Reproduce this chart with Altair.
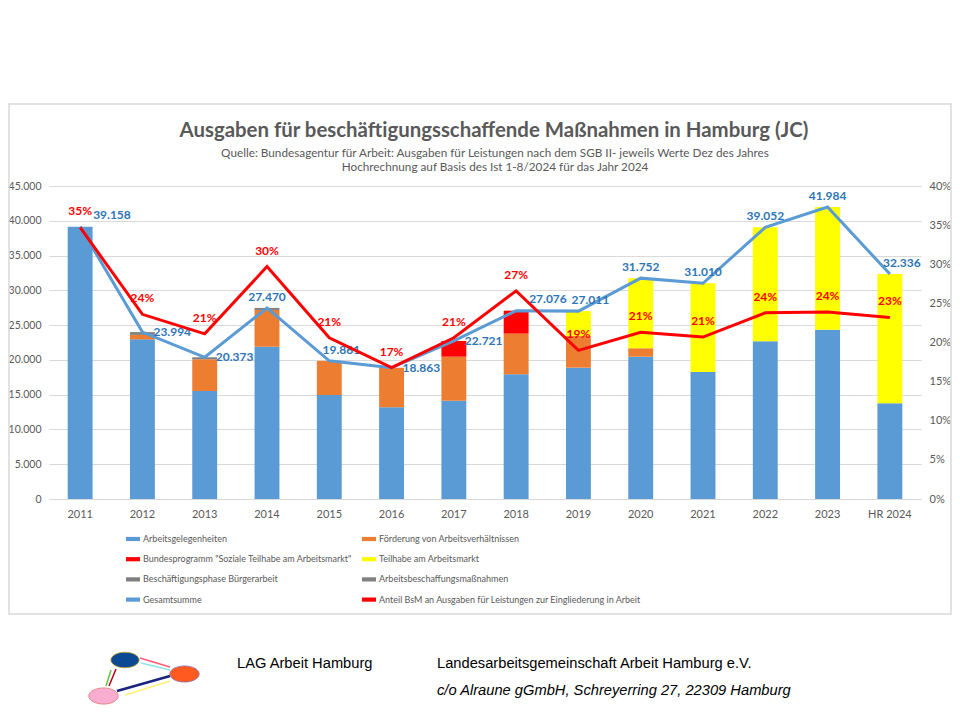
import altair as alt
import pandas as pd

YEARS = ["2011", "2012", "2013", "2014", "2015", "2016", "2017", "2018",
         "2019", "2020", "2021", "2022", "2023", "HR 2024"]
ARBEITSGELEGENHEITEN = [39158, 22950, 15530, 21900, 14950, 13190, 14140, 17930,
                        18880, 20460, 18260, 22680, 24350, 13760]
FOERDERUNG = [0, 650, 4560, 5280, 4911, 5673, 6320, 5840, 4560, 1210, 0, 0, 0, 0]
BUNDESPROGRAMM = [0, 0, 0, 0, 0, 0, 2261, 3306, 0, 0, 0, 0, 0, 0]
TEILHABE = [0, 0, 0, 0, 0, 0, 0, 0, 3571, 10082, 12750, 16372, 17634, 18576]
BUERGERARBEIT = [0, 394, 283, 290, 0, 0, 0, 0, 0, 0, 0, 0, 0, 0]
ABM = [0, 0, 0, 0, 0, 0, 0, 0, 0, 0, 0, 0, 0, 0]
GESAMTSUMME = [39158, 23994, 20373, 27470, 19861, 18863, 22721, 27076,
               27011, 31752, 31010, 39052, 41984, 32336]
ANTEIL = [0.347, 0.236, 0.211, 0.297, 0.206, 0.168, 0.206, 0.266,
          0.190, 0.213, 0.207, 0.238, 0.239, 0.232]
LEFT_TICKS = [0, 5000, 10000, 15000, 20000, 25000, 30000, 35000, 40000, 45000]
RIGHT_TICKS = [0.0, 0.05, 0.10, 0.15, 0.20, 0.25, 0.30, 0.35, 0.40]
LABEL_RIGHT_YEARS = ["2012", "2013", "2016", "2017"]
LABEL_UPPER_RIGHT_YEARS = ["2011", "2018"]
LABEL_ABOVE_RIGHT_YEARS = ["2015", "2019", "HR 2024"]

SERIES = ["Arbeitsgelegenheiten", "Förderung von Arbeitsverhältnissen",
          "Bundesprogramm \"Soziale Teilhabe am Arbeitsmarkt\"", "Teilhabe am Arbeitsmarkt",
          "Beschäftigungsphase Bürgerarbeit", "Arbeitsbeschaffungsmaßnahmen",
          "Gesamtsumme", "Anteil BsM an Ausgaben für Leistungen zur Eingliederung in Arbeit"]
COLORS = ["#5B9BD5", "#ED7D31", "#FF0000", "#FFFF00", "#7F7F7F", "#808080",
          "#5B9BD5", "#FF0000"]

TITLE = "Ausgaben für beschäftigungsschaffende Maßnahmen in Hamburg (JC)"
SUBTITLE_1 = "Quelle: Bundesagentur für Arbeit: Ausgaben für Leistungen nach dem SGB II- jeweils Werte Dez des Jahres"
SUBTITLE_2 = "Hochrechnung auf Basis des Ist 1-8/2024 für das Jahr 2024"
FOOTER_NAME = "LAG Arbeit  Hamburg"
FOOTER_ORG = "Landesarbeitsgemeinschaft Arbeit  Hamburg e.V."
FOOTER_ADDR = "c/o Alraune  gGmbH, Schreyerring 27, 22309  Hamburg"

FONT = "Lato, Liberation Sans, sans-serif"
FOOT_FONT = "Liberation Sans, Arial, sans-serif"
GRAY = "#595959"

bar_series = [ARBEITSGELEGENHEITEN, FOERDERUNG, BUNDESPROGRAMM, TEILHABE, BUERGERARBEIT, ABM]
rows = []
for si, vals in enumerate(bar_series):
    for y, v in zip(YEARS, vals):
        if v > 0:
            rows.append({"year": y, "series": SERIES[si], "order": si, "value": v})
bars_df = pd.DataFrame(rows)
line_df = pd.DataFrame({"year": YEARS, "total": GESAMTSUMME, "anteil": ANTEIL})

# identical axis definitions reused in every layer so that merged axes stay consistent
X_AXIS = alt.Axis(labelAngle=0, labelColor=GRAY, labelFontSize=11, labelFont=FONT, title=None,
                  domainColor="#D9D9D9", ticks=False, labelPadding=9, labelOverlap=False, grid=False)
LEFT_AXIS = alt.Axis(values=LEFT_TICKS, title=None,
                     labelExpr="replace(format(datum.value, ','), ',', '.')",
                     labelColor=GRAY, labelFontSize=10.5, labelFont=FONT, domain=False,
                     ticks=False, grid=True, gridColor="#D9D9D9", gridWidth=1, labelPadding=8,
                     labelOverlap=False)
RIGHT_AXIS = alt.Axis(orient="right", format=".0%", values=RIGHT_TICKS, title=None,
                      labelColor=GRAY, labelFontSize=11, labelFont=FONT, domain=False,
                      ticks=False, grid=False, labelPadding=8, labelOverlap=False)

X_SCALE = alt.Scale(domain=YEARS, paddingInner=0.6, paddingOuter=0.3)
Y_LEFT_SCALE = alt.Scale(domain=[0, 45000])
Y_RIGHT_SCALE = alt.Scale(domain=[0, 0.40])

X = alt.X("year:N", sort=YEARS, scale=X_SCALE, axis=X_AXIS, title=None)
Y_TOTAL = alt.Y("total:Q", scale=Y_LEFT_SCALE, axis=LEFT_AXIS, title=None)
Y_ANTEIL = alt.Y("anteil:Q", scale=Y_RIGHT_SCALE, axis=RIGHT_AXIS, title=None)

bars = alt.Chart(bars_df).mark_bar().encode(
    x=X,
    y=alt.Y("value:Q", stack="zero", scale=Y_LEFT_SCALE, axis=LEFT_AXIS, title=None),
    color=alt.Color("series:N", scale=alt.Scale(domain=SERIES, range=COLORS), title=None,
                    legend=alt.Legend(orient="none", legendX=77, legendY=346, columns=2,
                                      direction="horizontal", columnPadding=10, rowPadding=8.2,
                                      labelFont=FONT, labelFontSize=9, labelColor=GRAY,
                                      labelLimit=500, symbolType="M-1,-0.3H1V0.3H-1Z",
                                      symbolSize=196, symbolStrokeWidth=0, labelOffset=3)),
    order=alt.Order("order:Q"),
)

total_line = alt.Chart(line_df).mark_line(color="#5B9BD5", strokeWidth=3).encode(x=X, y=Y_TOTAL)

total_fmt = "replace(format(datum.total, ','), ',', '.')"
label_style = dict(font=FONT, fontSize=12, fontWeight="bold", color="#2E75B6", baseline="middle")


def total_labels(years, negate=False, **kw):
    pred = alt.FieldOneOfPredicate(field="year", oneOf=years)
    return alt.Chart(line_df).transform_filter(~pred if negate else pred).transform_calculate(
        lbl=total_fmt).mark_text(**kw, **label_style).encode(x=X, y=Y_TOTAL, text="lbl:N")


lbl_right = total_labels(LABEL_RIGHT_YEARS, align="left", dx=11, dy=0)
lbl_upper_right = total_labels(LABEL_UPPER_RIGHT_YEARS, align="left", dx=13, dy=-12)
lbl_above_right = total_labels(LABEL_ABOVE_RIGHT_YEARS, align="center", dx=12, dy=-11)
lbl_above = total_labels(LABEL_RIGHT_YEARS + LABEL_UPPER_RIGHT_YEARS + LABEL_ABOVE_RIGHT_YEARS,
                         negate=True, align="center", dy=-11)

left_layer = alt.layer(bars, total_line, lbl_right, lbl_upper_right, lbl_above_right, lbl_above)

anteil_line = alt.Chart(line_df).mark_line(color="#FF0000", strokeWidth=3).encode(x=X, y=Y_ANTEIL)
anteil_lbl = alt.Chart(line_df).mark_text(
    baseline="middle", dy=-16, font=FONT, fontSize=12, fontWeight="bold", color="#FF0000"
).encode(x=X, y=Y_ANTEIL, text=alt.Text("anteil:Q", format=".0%"))
right_layer = alt.layer(anteil_line, anteil_lbl)

one = alt.Data(values=[{"k": 1}])
frame = alt.Chart(one).mark_rect(fill=None, stroke="#D9D9D9", strokeWidth=1.5).encode(
    x=alt.value(-40), x2=alt.value(902), y=alt.value(-82), y2=alt.value(428))


def text_item(txt, xpos, ypos, **kw):
    return alt.Chart(one).mark_text(baseline="middle", **kw).encode(
        x=alt.value(xpos), y=alt.value(ypos), text=alt.value(txt))


title_t = text_item(TITLE, 445, -55, align="center", font=FONT, fontSize=20.4,
                    fontWeight="bold", color=GRAY)
sub1_t = text_item(SUBTITLE_1, 446, -33, align="center", font=FONT, fontSize=11.75, color=GRAY)
sub2_t = text_item(SUBTITLE_2, 446, -19, align="center", font=FONT, fontSize=11.75, color=GRAY)

footer1 = text_item(FOOTER_NAME, 188, 478, align="left", font=FOOT_FONT, fontSize=14.7, color="#000000")
footer2 = text_item(FOOTER_ORG, 388, 478, align="left", font=FOOT_FONT, fontSize=14.7, color="#000000")
footer3 = text_item(FOOTER_ADDR, 388, 505, align="left", font=FOOT_FONT, fontSize=14.7,
                    fontStyle="italic", color="#000000")

ELL = "M-1,0A1,0.55,0,1,1,1,0A1,0.55,0,1,1,-1,0Z"
logo_arrows = [
    alt.Chart(one).mark_rule(color=c, strokeWidth=w).encode(
        x=alt.value(a), y=alt.value(b), x2=alt.value(c2), y2=alt.value(d))
    for (a, b, c2, d, c, w) in [
        (91, 472, 121, 481, "#FF5C7A", 1.5), (121, 484, 92, 477, "#8FE3E8", 1.5),
        (57, 500, 62, 484, "#6CC04A", 1.5), (67, 483, 60, 500, "#B00020", 1.5),
        (68, 505, 121, 490, "#1A237E", 2.5), (121, 495, 76, 509, "#FFF176", 1.5)]
]
logo_ells = [
    alt.Chart(one).mark_point(shape=ELL, filled=True, fill=f, stroke=s, strokeWidth=0.8,
                              opacity=1, size=sz).encode(x=alt.value(a), y=alt.value(b))
    for (a, b, f, s, sz) in [(76, 474, "#0B4A93", "#C9A227", 800),
                            (135.5, 488, "#FF5A1F", "#8E6CB0", 860),
                            (54.5, 510, "#F9AECF", "#E57373", 860)]
]

chart = alt.layer(frame, left_layer, right_layer, title_t, sub1_t, sub2_t,
                  footer1, footer2, footer3, *logo_arrows, *logo_ells
                  ).resolve_scale(y="independent").properties(
    width=872, height=313,
    autosize=alt.AutoSizeParams(type="none"),
    padding={"left": 41, "top": 178, "right": 31, "bottom": 213},
).configure(background="white", view=alt.ViewConfig(stroke=None),
            axis=alt.AxisConfig(labelOverlap=False))

chart.save("out.html", embed_options={"renderer": "svg", "actions": False})
